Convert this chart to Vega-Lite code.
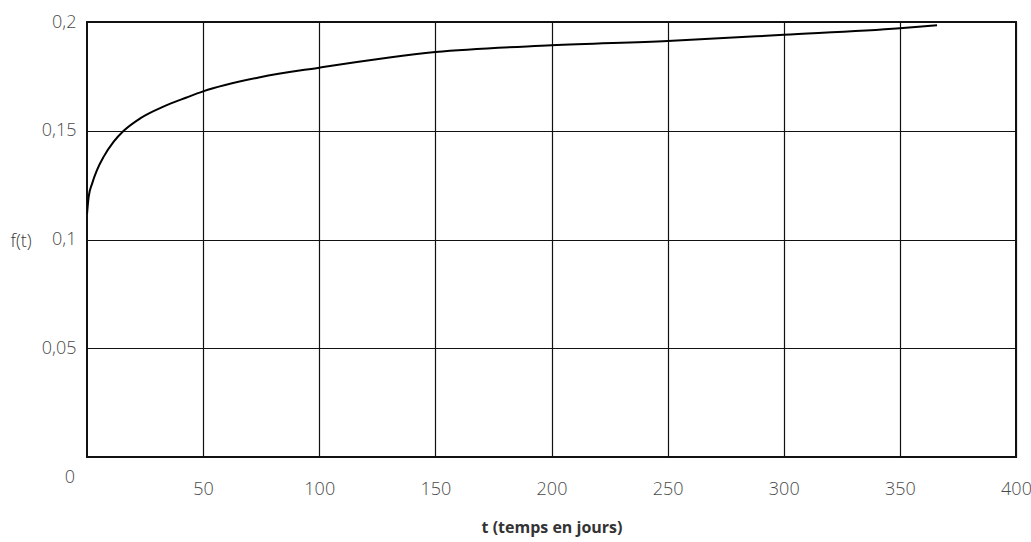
{
  "$schema": "https://vega.github.io/schema/vega-lite/v6.json",
  "width": 929,
  "height": 435,
  "autosize": {"type": "none"},
  "padding": {"left": 87, "top": 22, "right": 15, "bottom": 85},
  "background": "white",
  "config": {
    "view": {"stroke": "#111", "strokeWidth": 2},
    "font": "Open Sans"
  },
  "data": {
    "values": [
      {"t": 0, "f": 0.1117},
      {"t": 0.7, "f": 0.1195},
      {"t": 2.2, "f": 0.1257},
      {"t": 4.3, "f": 0.1319},
      {"t": 7.2, "f": 0.1381},
      {"t": 11.5, "f": 0.145},
      {"t": 15.8, "f": 0.15},
      {"t": 22.9, "f": 0.1557},
      {"t": 32.9, "f": 0.1611},
      {"t": 42.9, "f": 0.1653},
      {"t": 50, "f": 0.1681},
      {"t": 74.5, "f": 0.1746},
      {"t": 100, "f": 0.179},
      {"t": 150, "f": 0.1862},
      {"t": 200, "f": 0.1893},
      {"t": 250, "f": 0.1913},
      {"t": 300, "f": 0.1941},
      {"t": 350, "f": 0.1971},
      {"t": 366, "f": 0.1985}
    ]
  },
  "layer": [
    {
      "mark": {"type": "line", "color": "#000", "strokeWidth": 2, "interpolate": "monotone", "clip": true},
      "encoding": {
        "x": {
          "field": "t", "type": "quantitative",
          "scale": {"domain": [0, 400], "nice": false, "zero": false},
          "axis": {
            "values": [50, 100, 150, 200, 250, 300, 350, 400],
            "title": "t (temps en jours)",
            "titleFont": "Open Sans", "titleFontSize": 16, "titleFontWeight": "bold", "titleColor": "#333",
            "titleBaseline": "middle", "titleY": 70,
            "labelFont": "Open Sans", "labelFontSize": 18, "labelColor": "#4a4a4a", "labelFontWeight": 300,
            "labelPadding": 23, "ticks": false, "domain": false,
            "grid": true, "gridColor": "#111", "gridWidth": 1.2, "gridOpacity": 1,
            "labelFlush": false, "labelOverlap": false
          }
        },
        "y": {
          "field": "f", "type": "quantitative",
          "scale": {"domain": [0, 0.2], "nice": false, "zero": false},
          "axis": {
            "values": [0.05, 0.1, 0.15, 0.2],
            "labelExpr": "replace(toString(datum.value), '.', ',')",
            "title": "f(t)",
            "titleAngle": 0, "titleAlign": "left", "titleBaseline": "middle",
            "titleX": -77, "titleY": 219,
            "titleFont": "Open Sans", "titleFontSize": 18, "titleFontWeight": 300, "titleColor": "#3a3a3a",
            "labelFont": "Open Sans", "labelFontSize": 18, "labelColor": "#4a4a4a", "labelFontWeight": 300,
            "labelPadding": 11, "ticks": false, "domain": false,
            "grid": true, "gridColor": "#111", "gridWidth": 1.2, "gridOpacity": 1,
            "labelFlush": false, "labelOverlap": false
          }
        }
      }
    },
    {
      "data": {"values": [{"t": 0, "f": 0, "label": "0"}]},
      "mark": {"type": "text", "font": "Open Sans", "fontSize": 18, "fontWeight": 300, "color": "#4a4a4a", "dx": -17, "dy": 21, "align": "center", "baseline": "middle"},
      "encoding": {
        "x": {"field": "t", "type": "quantitative"},
        "y": {"field": "f", "type": "quantitative"},
        "text": {"field": "label"}
      }
    }
  ]
}
